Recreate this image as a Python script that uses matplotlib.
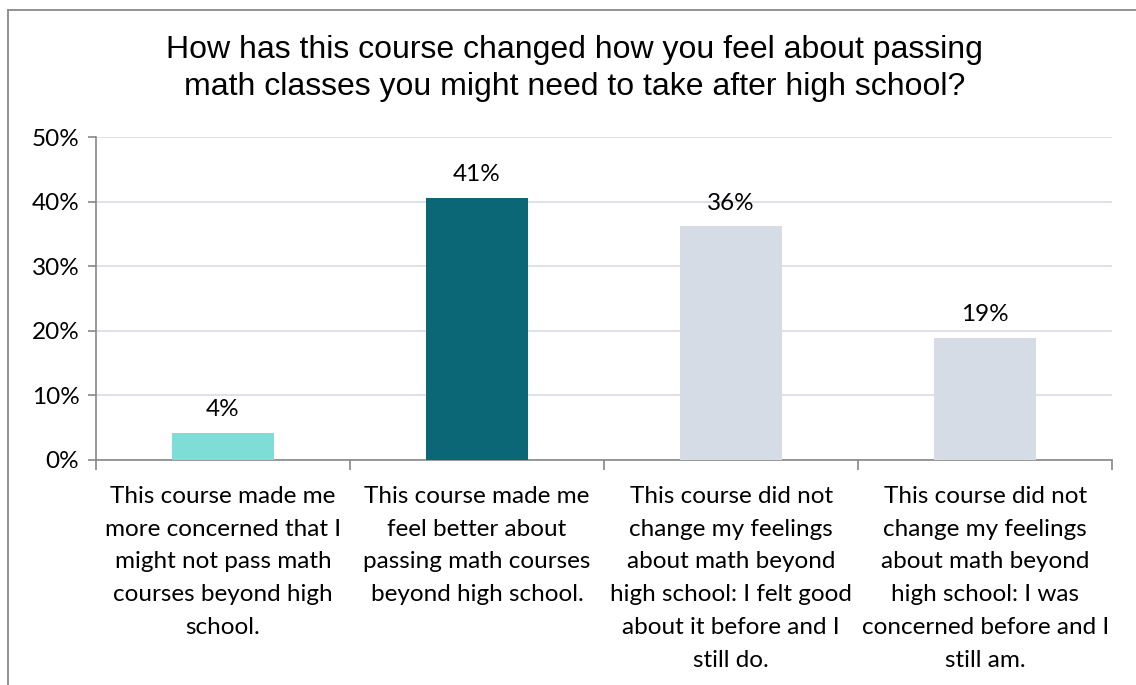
import numpy as np
import matplotlib.pyplot as plt
from matplotlib.lines import Line2D

# Survey responses, share of students
categories = [
    "This course made me\nmore concerned that I\nmight not pass math\ncourses beyond high\nschool.",
    "This course made me\nfeel better about\npassing math courses\nbeyond high school.",
    "This course did not\nchange my feelings\nabout math beyond\nhigh school: I felt good\nabout it before and I\nstill do.",
    "This course did not\nchange my feelings\nabout math beyond\nhigh school: I was\nconcerned before and I\nstill am.",
]
values = [0.042, 0.406, 0.362, 0.189]
labels = ["4%", "41%", "36%", "19%"]
colors = ["#7FDDD8", "#0B6775", "#D6DCE5", "#D6DCE5"]
yticks = [0, 0.1, 0.2, 0.3, 0.4, 0.5]

title = ("How has this course changed how you feel about passing\n"
         "math classes you might need to take after high school?")

fig = plt.figure(figsize=(11.36, 6.85), dpi=100)
ax = fig.add_axes([0.0845, 0.3285, 0.8945, 0.4715])

x = np.arange(len(values))
ax.bar(x, values, width=0.4, color=colors, zorder=3)
for xi, v, lab in zip(x, values, labels):
    ax.annotate(lab, (xi, v), xytext=(0, 9), textcoords="offset points",
                ha="center", va="bottom", fontsize=17.5, family="Lato")

ax.set_xlim(-0.5, 3.5)
ax.set_ylim(0, 0.5)
ax.set_yticks(yticks)
ax.set_yticklabels([f"{int(round(t * 100))}%" for t in yticks], fontsize=17.5, family="Lato")
ax.set_xticks(x)
ax.set_xticklabels(categories, fontsize=17.5, family="Lato", linespacing=1.7)
ax.set_xticks(np.arange(-0.5, 4, 1), minor=True)
ax.tick_params(axis="x", which="major", length=0, pad=18.5)
ax.tick_params(axis="x", which="minor", length=7, color="#878787", width=1.2)
ax.tick_params(axis="y", length=6, color="#878787", width=1.2, pad=6)

ax.grid(axis="y", color="#D9DEEA", linewidth=1.3, zorder=0)
for s in ["top", "right"]:
    ax.spines[s].set_visible(False)
for s in ["left", "bottom"]:
    ax.spines[s].set_color("#878787")
    ax.spines[s].set_linewidth(1.2)

fig.text(0.506, 0.9, title, ha="center", va="center", fontsize=23,
         family="Liberation Sans", linespacing=1.32)

# outer chart border (left and top only visible)
fig.add_artist(Line2D([8 / 1136, 8 / 1136], [0, 1 - 10 / 685], transform=fig.transFigure,
                      color="#898989", linewidth=1.3))
fig.add_artist(Line2D([8 / 1136, 1], [1 - 10 / 685, 1 - 10 / 685], transform=fig.transFigure,
                      color="#898989", linewidth=1.3))

fig.savefig("out.png", dpi=100)
